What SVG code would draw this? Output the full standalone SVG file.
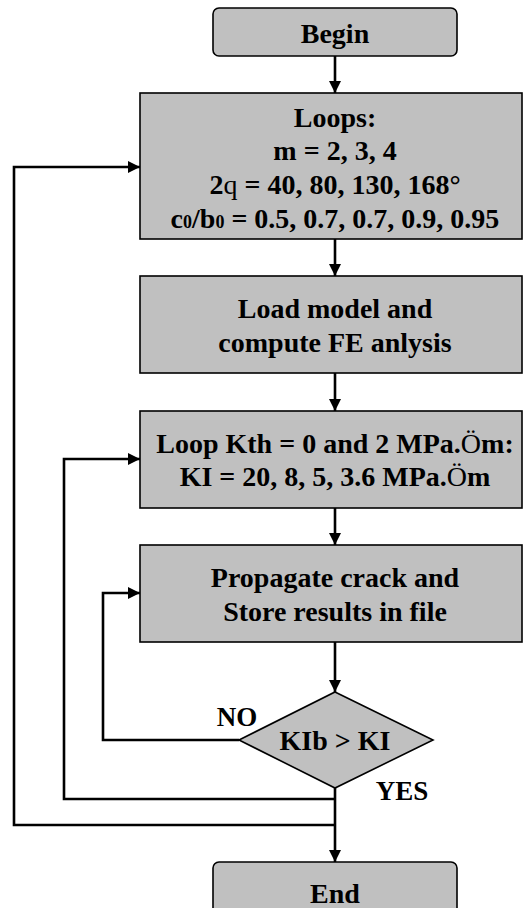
<svg xmlns="http://www.w3.org/2000/svg" width="523" height="908" viewBox="0 0 523 908">
<style>
.box{fill:#c0c0c0;stroke:#000;stroke-width:1.6}
.t{font-family:'Liberation Serif','DejaVu Serif',serif;font-weight:700;font-size:28px;text-anchor:middle;fill:#000}
.lbl{font-family:'Liberation Serif','DejaVu Serif',serif;font-weight:700;font-size:27px;text-anchor:middle;fill:#000}
.n{font-weight:400}
.c{fill:none;stroke:#000;stroke-width:2.6}
</style>
<defs>
<marker id="ah" markerUnits="userSpaceOnUse" markerWidth="12" markerHeight="12" refX="12" refY="6" orient="auto">
<path d="M0,0 L12,6 L0,12 z" fill="#000"/>
</marker>
</defs>
<rect width="523" height="908" fill="#fff"/>
<g id="connectors">
<line class="c" x1="335" y1="56" x2="335" y2="93" marker-end="url(#ah)"/>
<line class="c" x1="335" y1="239" x2="335" y2="276" marker-end="url(#ah)"/>
<line class="c" x1="335" y1="373" x2="335" y2="411" marker-end="url(#ah)"/>
<line class="c" x1="335" y1="508" x2="335" y2="545" marker-end="url(#ah)"/>
<line class="c" x1="335" y1="642" x2="335" y2="692" marker-end="url(#ah)"/>
<line class="c" x1="335" y1="788" x2="335" y2="862" marker-end="url(#ah)"/>
<polyline class="c" points="239,740 103,740 103,593 140,593" marker-end="url(#ah)"/>
<polyline class="c" points="335,799 64,799 64,459 140,459" marker-end="url(#ah)"/>
<polyline class="c" points="335,825 14,825 14,167 140,167" marker-end="url(#ah)"/>
</g>
<g id="begin">
<rect class="box" x="213" y="8" width="244" height="48" rx="6"/>
<text class="t" x="335" y="43">Begin</text>
</g>
<g id="loops">
<rect class="box" x="140" y="93" width="382" height="146"/>
<text class="t" x="335" y="127">Loops:</text>
<text class="t" x="335" y="160">m = 2, 3, 4</text>
<text class="t" x="335" y="194">2<tspan class="n">q</tspan> = 40, 80, 130, 168°</text>
<text class="t" x="335" y="228">c<tspan font-size="18">0</tspan>/b<tspan font-size="18">0</tspan> = 0.5, 0.7, 0.7, 0.9, 0.95</text>
</g>
<g id="load">
<rect class="box" x="140" y="276" width="382" height="97"/>
<text class="t" x="335" y="318">Load model and</text>
<text class="t" x="335" y="352">compute FE anlysis</text>
</g>
<g id="loopk">
<rect class="box" x="140" y="411" width="382" height="97"/>
<text class="t" x="335" y="453">Loop Kth = 0 and 2 MPa.<tspan class="n">Ö</tspan>m:</text>
<text class="t" x="335" y="486">KI = 20, 8, 5, 3.6 MPa.<tspan class="n">Ö</tspan>m</text>
</g>
<g id="propagate">
<rect class="box" x="140" y="545" width="382" height="97"/>
<text class="t" x="335" y="587">Propagate crack and</text>
<text class="t" x="335" y="621">Store results in file</text>
</g>
<g id="decision">
<polygon class="box" points="335,692 433,740 335,788 239,740"/>
<text class="t" x="335" y="750">KIb &gt; KI</text>
</g>
<g id="labels">
<text class="lbl" x="237" y="726">NO</text>
<text class="lbl" x="402" y="800">YES</text>
</g>
<g id="end">
<rect class="box" x="213" y="862" width="244" height="56" rx="6"/>
<text class="t" x="335" y="903">End</text>
</g>
</svg>
